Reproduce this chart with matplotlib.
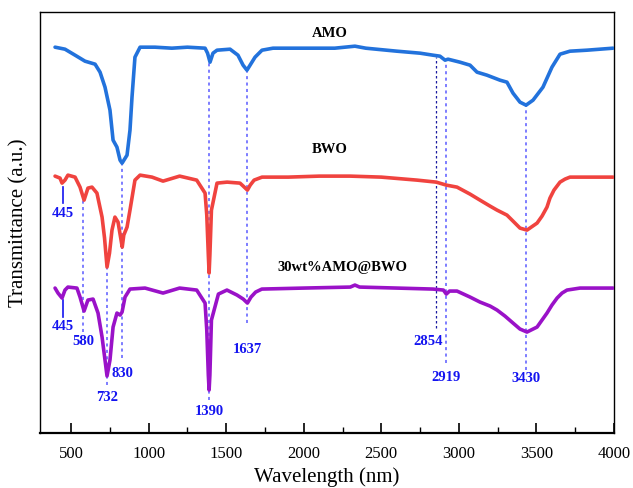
import matplotlib
matplotlib.use("Agg")
import matplotlib.pyplot as plt
from matplotlib.ticker import MultipleLocator

plt.rcParams["font.family"] = ["Liberation Serif", "DejaVu Serif"]

# spectra, offset vertically (arbitrary units)
amo_x = [397, 461, 526, 590, 655, 687, 719, 751, 771, 796, 816, 829, 861, 880, 893, 912,
         945, 1041, 1150, 1250, 1364, 1380, 1396, 1415, 1441, 1525, 1576, 1609, 1634, 1654,
         1686, 1731, 1802, 2000, 2200, 2330, 2400, 2600, 2750, 2833, 2878, 2911, 2930, 3007,
         3072, 3117, 3181, 3265, 3310, 3349, 3394, 3433, 3478, 3542, 3600, 3652, 3716, 3826,
         3994]
amo_y = [386, 384, 378, 372, 369, 361, 346, 323, 293, 286, 273, 270, 278, 303, 336, 376,
         386, 386, 385, 386, 385, 380, 371, 380, 383, 384, 378, 368, 363, 368,
         376, 383, 385, 385, 385, 387, 385, 382, 380, 378, 377, 373, 374, 371,
         368, 361, 358, 353, 351, 340, 331, 328, 333, 346, 366, 379, 382, 383,
         385]

bwo_x = [397, 429, 442, 461, 480, 526, 558, 584, 609, 635, 667, 700, 716, 732, 748, 764,
         783, 803, 830, 840, 861, 880, 912, 945, 1022, 1093, 1200, 1310, 1364, 1375, 1385,
         1390, 1395, 1405, 1441, 1506, 1589, 1610, 1637, 1655, 1680, 1731, 1900, 2100, 2300,
         2500, 2730, 2854, 2919, 2988, 3072, 3136, 3201, 3246, 3310, 3349, 3394, 3439, 3504,
         3536, 3568, 3587, 3613, 3652, 3684, 3716, 3995]
bwo_y = [257, 255, 250, 253, 258, 256, 246, 233, 245, 246, 240, 216, 195, 166, 180, 203,
         216, 211, 186, 198, 206, 223, 253, 258, 256, 252, 257, 253, 240, 218, 178,
         160, 178, 223, 250, 251, 250, 247, 243, 248, 253, 256, 256, 257, 257,
         256, 253, 251, 248, 246, 239, 233, 227, 223, 218, 212, 205, 203, 210,
         217, 226, 235, 243, 251, 254, 256, 256]

comp_x = [397, 416, 442, 461, 480, 538, 558, 584, 609, 642, 674, 700, 719, 732, 751, 771,
          796, 816, 829, 848, 880, 977, 1093, 1200, 1310, 1364, 1375, 1385, 1390, 1395, 1405,
          1450, 1505, 1570, 1610, 1637, 1660, 1690, 1730, 2000, 2300, 2330, 2360, 2600, 2833,
          2900, 2919, 2940, 2988, 3072, 3136, 3201, 3246, 3297, 3349, 3394, 3439, 3504, 3536,
          3568, 3600, 3633, 3665, 3697, 3781, 3995]
comp_y = [145, 140, 135, 143, 146, 145, 136, 122, 133, 134, 120, 96, 73, 57, 73, 106,
          120, 118, 121, 136, 144, 145, 140, 145, 143, 130, 103, 58, 43, 58, 113,
          139, 143, 138, 134, 130, 136, 141, 144, 145, 146, 148, 146, 145, 144,
          143, 139, 142, 142, 136, 131, 127, 123, 117, 110, 104, 101, 106, 113,
          120, 128, 135, 140, 143, 145, 145]

# band markers: (position, line top, line bottom, label x, label y)
dotted_bands = [
    (580, 233, 101, 580, 92),
    (732, 166, 48, 732, 36),
    (830, 270, 75, 830, 60),
    (1390, 371, 33, 1390, 22),
    (1637, 363, 110, 1637, 84),
    (2919, 371, 70, 2919, 56),
    (3430, 327, 63, 3430, 55),
]
band_2854 = (2854, 376, 105, 2800, 92)
solid_445 = [(445, 246, 230, 220), (445, 133, 116, 107)]

names = ["AMO", "BWO", "30wt%AMO@BWO"]
name_pos = [(2170, 400), (2170, 284), (2250, 166)]

BLUE = "#2272dc"
RED = "#f0433f"
PURPLE = "#9a12c8"
MARK = "#5a5aff"
LABEL = "#1414f0"

fig = plt.figure(figsize=(6.33, 4.88), dpi=100)
ax = fig.add_axes([0.0632, 0.1127, 0.9068, 0.8623])

for x, y, c in [(amo_x, amo_y, BLUE), (bwo_x, bwo_y, RED), (comp_x, comp_y, PURPLE)]:
    ax.plot(x, y, color=c, lw=2.6, solid_joinstyle="round", solid_capstyle="round", zorder=3)

for pos, top, bot, lx, ly in dotted_bands:
    ax.plot([pos, pos], [bot, top], color=MARK, lw=1.1, ls=(0, (2, 2.2)), zorder=2)
    ax.text(lx, ly, str(pos), color=LABEL, fontsize=10.5, fontweight="bold",
            ha="center", va="center")

pos, top, bot, lx, ly = band_2854
ax.plot([pos, pos], [bot, top], color="#1a1aa0", lw=0.9, ls=(0, (2, 2)), zorder=2)
ax.text(lx, ly, str(pos), color=LABEL, fontsize=10.5, fontweight="bold", ha="center", va="center")

for pos, top, bot, ly in solid_445:
    ax.plot([pos, pos], [bot, top], color=LABEL, lw=1.2, zorder=2)
    ax.text(pos, ly, str(pos), color=LABEL, fontsize=10.5, fontweight="bold",
            ha="center", va="center")

for name, (nx, ny) in zip(names, name_pos):
    ax.text(nx, ny, name, color="black", fontsize=10.5, fontweight="bold",
            ha="center", va="center")

ax.set_xlim(300, 4000)
ax.set_ylim(0, 421)
ax.xaxis.set_major_locator(MultipleLocator(500))
ax.xaxis.set_minor_locator(MultipleLocator(250))
ax.set_xticks(range(500, 4001, 500))
ax.tick_params(axis="x", which="major", direction="in", length=7, width=1.2, labelsize=12, pad=9)
ax.tick_params(axis="x", which="minor", direction="in", length=4, width=1.0)
ax.set_yticks([])
for side, sp in ax.spines.items():
    sp.set_linewidth(1.6 if side == "bottom" else 1.0)

ax.set_xlabel("Wavelength (nm)", fontsize=15, labelpad=4)
ax.set_ylabel("Transmittance (a.u.)", fontsize=15, labelpad=8)

fig.savefig("out.png", dpi=100, facecolor="white")
